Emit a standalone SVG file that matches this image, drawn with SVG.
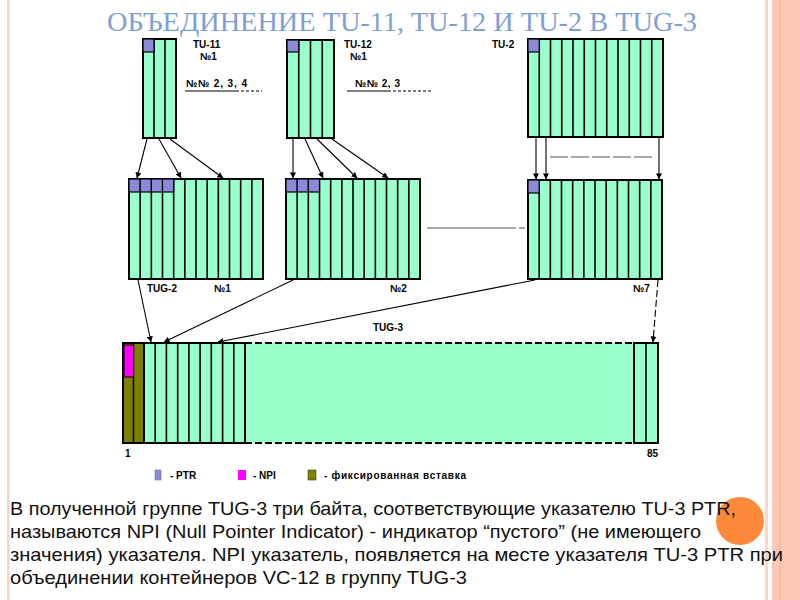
<svg xmlns="http://www.w3.org/2000/svg" width="800" height="600" viewBox="0 0 800 600">
<style>
.blk{fill:#99ffcc;stroke:#000;stroke-width:2}
.sep{fill:none;stroke:#000;stroke-width:1.6}
.ptr{fill:#8a8ad8;stroke:#000;stroke-width:1.2}
.lbl{font-family:"Liberation Sans",Arial,sans-serif;font-weight:bold;font-size:10px;fill:#000}
.con{fill:none;stroke:#000;stroke-width:1.1}
.body{font-family:"Liberation Sans",Arial,sans-serif;font-size:18.5px;fill:#111}
</style>
<defs>
<marker id="ah" viewBox="0 0 8 8" refX="7.5" refY="4" markerWidth="6" markerHeight="6" orient="auto" markerUnits="userSpaceOnUse">
<path d="M0,0 L8,4 L0,8 Z" fill="#000"/>
</marker>
</defs>
<rect width="800" height="600" fill="#fff"/>
<!-- borders -->
<rect x="7" y="0" width="2.5" height="600" fill="#fcd0c0"/>
<rect x="765" y="0" width="3" height="600" fill="#fdd6c8"/>
<rect x="772" y="0" width="2" height="600" fill="#fbc6b2"/>
<rect x="774" y="0" width="26" height="600" fill="#fcc9b6"/>
<rect x="779.5" y="0" width="1.2" height="600" fill="#f6b49c"/>
<!-- title -->
<text x="107" y="31" font-family="'Liberation Serif','Times New Roman',serif" font-size="28" fill="#7f9fd4" textLength="590" lengthAdjust="spacingAndGlyphs">ОБЪЕДИНЕНИЕ TU-11, TU-12 И TU-2 В TUG-3</text>

<g id="tu11">
<rect class="blk" x="143" y="39" width="33" height="99"/>
<path class="sep" d="M154,39V138M165,39V138"/>
<rect class="ptr" x="143" y="39" width="11" height="13"/>
<text class="lbl" x="193" y="48" font-size="11">TU-11</text>
<text class="lbl" x="200" y="60" font-size="9">№1</text>
<text class="lbl" x="186" y="87" textLength="61" font-size="10">№№ 2, 3, 4</text>
<path d="M185,91H236" stroke="#000" stroke-width="1"/>
<path d="M236,91H262" stroke="#000" stroke-width="1" stroke-dasharray="3,2"/>
</g>

<g id="tu12">
<rect class="blk" x="287" y="40" width="47" height="98"/>
<path class="sep" d="M298.75,40V138M310.5,40V138M322.25,40V138"/>
<rect class="ptr" x="287" y="40" width="11.75" height="12"/>
<text class="lbl" x="344" y="48" font-size="11">TU-12</text>
<text class="lbl" x="350" y="60" font-size="9">№1</text>
<text class="lbl" x="355" y="87" textLength="45" font-size="10">№№ 2, 3</text>
<path d="M347,91H388" stroke="#000" stroke-width="1"/>
<path d="M388,91H433" stroke="#000" stroke-width="1" stroke-dasharray="3,2"/>
</g>

<g id="tu2">
<rect class="blk" x="528" y="39" width="135" height="98"/>
<path class="sep" d="M539.25,39V137M550.5,39V137M561.75,39V137M573,39V137M584.25,39V137M595.5,39V137M606.75,39V137M618,39V137M629.25,39V137M640.5,39V137M651.75,39V137"/>
<rect class="ptr" x="528" y="39" width="11.25" height="13"/>
<text class="lbl" x="492" y="48" font-size="10">TU-2</text>
</g>

<g id="tug2-1">
<rect class="blk" x="129" y="179" width="134" height="100"/>
<path class="sep" d="M140.17,179V279M151.33,179V279M162.5,179V279M173.67,179V279M184.83,179V279M196,179V279M207.17,179V279M218.33,179V279M229.5,179V279M240.67,179V279M251.83,179V279"/>
<rect class="ptr" x="129" y="179" width="11.17" height="13"/>
<rect class="ptr" x="140.17" y="179" width="11.17" height="13"/>
<rect class="ptr" x="151.33" y="179" width="11.17" height="13"/>
<rect class="ptr" x="162.5" y="179" width="11.17" height="13"/>
<text class="lbl" x="147" y="292" font-size="9.5">TUG-2</text>
<text class="lbl" x="214" y="292" font-size="9">№1</text>
</g>

<g id="tug2-2">
<rect class="blk" x="286" y="179" width="134" height="100"/>
<path class="sep" d="M297.17,179V279M308.33,179V279M319.5,179V279M330.67,179V279M341.83,179V279M353,179V279M364.17,179V279M375.33,179V279M386.5,179V279M397.67,179V279M408.83,179V279"/>
<rect class="ptr" x="286" y="179" width="11.17" height="13"/>
<rect class="ptr" x="297.17" y="179" width="11.17" height="13"/>
<rect class="ptr" x="308.33" y="179" width="11.17" height="13"/>
<text class="lbl" x="390" y="292" font-size="9">№2</text>
</g>

<g id="tug2-7">
<rect class="blk" x="528" y="180" width="134" height="99"/>
<path class="sep" d="M539.17,180V279M550.33,180V279M561.5,180V279M572.67,180V279M583.83,180V279M595,180V279M606.17,180V279M617.33,180V279M628.5,180V279M639.67,180V279M650.83,180V279"/>
<rect class="ptr" x="528" y="180" width="11.17" height="13"/>
<text class="lbl" x="633" y="292" font-size="9" font-weight="normal">№7</text>
</g>

<g id="tug3">
<text class="lbl" x="373" y="331" font-size="9" font-weight="normal">TUG-3</text>
<rect x="245" y="343" width="389" height="100" fill="#99ffcc"/>
<path d="M245,343H634M245,443H634" stroke="#000" stroke-width="2" stroke-dasharray="7,3"/>
<rect x="123" y="343" width="21" height="100" fill="#808000" stroke="#000" stroke-width="2"/>
<path class="sep" d="M133.5,343V443"/>
<rect x="124" y="345" width="9.5" height="32" fill="#ff00ff" stroke="#000" stroke-width="1"/>
<rect class="blk" x="144" y="343" width="101" height="100"/>
<path class="sep" d="M155.2,343V443M166.4,343V443M177.7,343V443M188.9,343V443M200.1,343V443M211.3,343V443M222.6,343V443M233.8,343V443"/>
<rect class="blk" x="634" y="343" width="24" height="100"/>
<path class="sep" d="M646,343V443"/>
<text class="lbl" x="125" y="457" font-size="9">1</text>
<text class="lbl" x="647" y="457" font-size="9" font-weight="normal">85</text>
</g>

<g id="connectors">
<path class="con" marker-end="url(#ah)" d="M147,139L137,178"/>
<path class="con" marker-end="url(#ah)" d="M159,139L181,178"/>
<path class="con" marker-end="url(#ah)" d="M170,139L223,178"/>
<path class="con" marker-end="url(#ah)" d="M293,139L293,178"/>
<path class="con" marker-end="url(#ah)" d="M305,139L323,178"/>
<path class="con" marker-end="url(#ah)" d="M317,139L357,178"/>
<path class="con" marker-end="url(#ah)" d="M332,139L388,178"/>
<path class="con" marker-end="url(#ah)" d="M536,138L536,179"/>
<path class="con" marker-end="url(#ah)" d="M546,138L546,179"/>
<path class="con" marker-end="url(#ah)" d="M659,138L659,179"/>
<path d="M550,157H653" stroke="#555" stroke-width="1" stroke-dasharray="18,3"/>
<path d="M427,228H516" stroke="#555" stroke-width="1"/>
<path d="M519,228H525" stroke="#555" stroke-width="1"/>
<path class="con" marker-end="url(#ah)" d="M138,280L151,342"/>
<path class="con" marker-end="url(#ah)" d="M293,280L164,342"/>
<path class="con" marker-end="url(#ah)" d="M535,280L218,342"/>
<path class="con" marker-end="url(#ah)" stroke-dasharray="7,3" d="M658,280L653,342"/>
</g>

<g id="legend">
<rect x="155" y="470" width="6" height="10" fill="#8a8ad8" stroke="#777" stroke-width="0.6"/>
<text class="lbl" x="170" y="479" font-size="8">- PTR</text>
<rect x="238" y="470" width="8" height="10" fill="#ff00ff"/>
<text class="lbl" x="253" y="479" font-size="8">- NPI</text>
<rect x="308" y="470" width="8" height="10" fill="#808000" stroke="#444" stroke-width="0.6"/>
<text class="lbl" x="324" y="479" font-size="8" textLength="142">- фиксированная вставка</text>
</g>

<circle cx="740" cy="521" r="24" fill="#fd8a3b"/>

<g id="caption">
<text class="body" x="10" y="515" textLength="726" lengthAdjust="spacingAndGlyphs">В полученной группе TUG-3 три байта, соответствующие указателю TU-3 PTR,</text>
<text class="body" x="10" y="538" textLength="691" lengthAdjust="spacingAndGlyphs">называются NPI (Null Pointer Indicator) - индикатор “пустого” (не имеющего</text>
<text class="body" x="10" y="561" textLength="773" lengthAdjust="spacingAndGlyphs">значения) указателя. NPI указатель, появляется на месте указателя TU-3 PTR при</text>
<text class="body" x="10" y="584" textLength="457" lengthAdjust="spacingAndGlyphs">объединении контейнеров VC-12 в группу TUG-3</text>
</g>
</svg>
